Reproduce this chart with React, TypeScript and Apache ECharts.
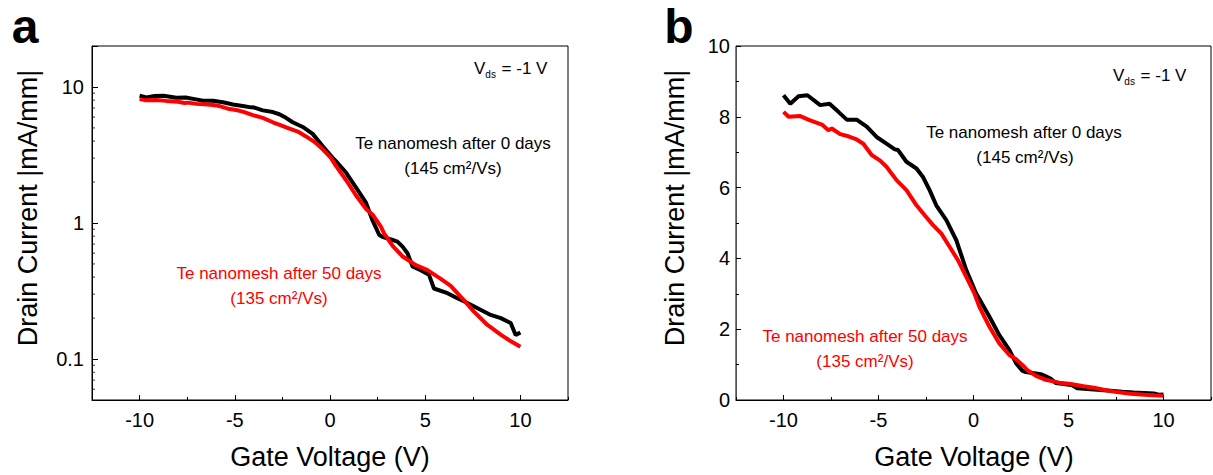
import React, { useEffect, useRef } from "react";
import * as echarts from "echarts";

// ---------- data ----------
const vgBlack = [-10.0, -9.64, -9.21, -8.74, -8.07, -7.58, -7.11, -6.67, -6.15, -5.62, -5.1, -4.58, -4.14, -3.97, -3.53, -3.0, -2.66, -2.31, -1.96, -1.43, -0.91, -0.38, 0.14, 0.31, 0.84, 1.36, 1.89, 2.24, 2.58, 2.75, 3.29, 3.54, 3.81, 4.07, 4.33, 4.76, 5.2, 5.46, 6.17, 6.69, 7.22, 7.83, 8.44, 8.97, 9.49, 9.75, 10.0];
const idBlack = [8.61, 8.37, 8.58, 8.61, 8.33, 8.37, 8.14, 7.92, 7.92, 7.72, 7.43, 7.24, 7.08, 7.06, 6.73, 6.54, 6.3, 5.93, 5.5, 5.08, 4.52, 3.67, 3.01, 2.85, 2.35, 1.83, 1.41, 1.04, 0.82, 0.79, 0.75, 0.73, 0.67, 0.6, 0.48, 0.45, 0.416, 0.33, 0.305, 0.28, 0.258, 0.233, 0.211, 0.2, 0.184, 0.15, 0.157];

const vgRed = [-10.0, -9.73, -9.12, -8.6, -7.98, -7.64, -7.46, -7.02, -6.59, -6.15, -5.8, -5.36, -4.93, -4.58, -4.05, -3.53, -3.0, -2.57, -2.13, -1.69, -1.26, -0.82, -0.38, 0.05, 0.31, 0.84, 1.36, 1.89, 2.24, 2.67, 2.84, 3.29, 3.8, 4.51, 5.12, 5.8, 6.34, 7.04, 7.56, 8.27, 9.0, 9.5, 10.0];
const idRed = [8.14, 8.0, 8.02, 7.9, 7.78, 7.62, 7.67, 7.51, 7.45, 7.36, 7.24, 6.92, 6.77, 6.59, 6.21, 5.93, 5.5, 5.22, 4.94, 4.7, 4.33, 3.95, 3.48, 3.01, 2.63, 2.07, 1.6, 1.27, 1.15, 0.94, 0.84, 0.68, 0.57, 0.49, 0.45, 0.39, 0.345, 0.27, 0.223, 0.178, 0.15, 0.135, 0.123];

const xMajorTicks = [-10, -5, 0, 5, 10];
const logMajorLabels = [0.1, 1, 10];
const logMinorTicks = [0.06, 0.07, 0.08, 0.09, 0.2, 0.3, 0.4, 0.5, 0.6, 0.7, 0.8, 0.9, 2, 3, 4, 5, 6, 7, 8, 9];

const seriesNames = ["Te nanomesh after 0 days", "Te nanomesh after 50 days"];
const mobilities = ["145", "135"];

// ---------- styling ----------
const FONT = "'Liberation Sans', Arial, sans-serif";
const BLACK = "#000000";
const RED = "#ff0000";
const LINE_W = 4;
const X_MIN = -12.5;
const X_MAX = 12.5;
const LOG_MIN = 0.05;
const LOG_MAX = 20;

const zip = (xs: number[], ys: number[]) => xs.map((x, i) => [x, ys[i]]);

function xAxisFor(gridIndex: number) {
  return {
    type: "value",
    gridIndex,
    position: "bottom",
    min: X_MIN,
    max: X_MAX,
    axisLine: { show: true, onZero: false, lineStyle: { color: BLACK, width: 1 } },
    axisTick: {
      show: true,
      inside: true,
      length: 5,
      customValues: xMajorTicks,
      lineStyle: { color: BLACK, width: 1 },
    },
    axisLabel: {
      customValues: xMajorTicks,
      color: BLACK,
      fontFamily: FONT,
      fontSize: 20,
      margin: 10,
      formatter: (v: number) => (v < 0 ? "-" + Math.abs(v) : String(v)),
    },
    splitLine: { show: false },
  };
}

// second bottom axis only for the minor ticks (-12.5 + k*5 => ±7.5, ±2.5)
function xMinorAxisFor(gridIndex: number) {
  return {
    type: "value",
    gridIndex,
    position: "bottom",
    min: X_MIN,
    max: X_MAX,
    interval: 5,
    axisLine: { show: false, onZero: false },
    axisTick: { show: true, inside: true, length: 3, lineStyle: { color: BLACK, width: 1 } },
    axisLabel: { show: false },
    splitLine: { show: false },
  };
}

function textEl(x: number, y: number, text: string, fill: string, size: number, extra: any = {}) {
  return {
    type: "text",
    x,
    y,
    silent: true,
    z: 10,
    ...extra,
    style: {
      text,
      fill,
      fontFamily: FONT,
      fontSize: size,
      align: "center",
      verticalAlign: "middle",
      ...(extra.style || {}),
    },
  };
}

function vdsEl(x: number, y: number) {
  return {
    type: "text",
    x,
    y,
    silent: true,
    z: 10,
    style: {
      text: "{m|V}{s|ds}{m| = -1 V}",
      align: "left",
      verticalAlign: "middle",
      rich: {
        m: { fontFamily: FONT, fontSize: 17, fill: BLACK, lineHeight: 22, color: BLACK },
        s: {
          fontFamily: FONT,
          fontSize: 10,
          fill: BLACK,
          color: BLACK,
          lineHeight: 22,
          verticalAlign: "bottom",
          padding: [6, 1, 0, 0],
        },
      },
    },
  };
}

export default function App() {
  const ref = useRef<HTMLDivElement>(null);

  useEffect(() => {
    if (!ref.current) return;
    const chart = echarts.init(ref.current, undefined, { renderer: "svg" });

    const blackData = zip(vgBlack, idBlack);
    const redData = zip(vgRed, idRed);

    const option: any = {
      animation: false,
      backgroundColor: "#ffffff",
      grid: [
        { left: 92, top: 46, width: 476, height: 354, show: true, borderColor: BLACK, borderWidth: 1, backgroundColor: "transparent" },
        { left: 736, top: 46, width: 475, height: 354, show: true, borderColor: BLACK, borderWidth: 1, backgroundColor: "transparent" },
      ],
      xAxis: [xAxisFor(0), xAxisFor(1), xMinorAxisFor(0), xMinorAxisFor(1)],
      yAxis: [
        {
          type: "log",
          logBase: 10,
          gridIndex: 0,
          position: "left",
          min: LOG_MIN,
          max: LOG_MAX,
          axisLine: { show: true, onZero: false, lineStyle: { color: BLACK, width: 1 } },
          axisTick: {
            show: true,
            inside: true,
            length: 6,
            lineStyle: { color: BLACK, width: 1 },
          },
          axisLabel: {
            color: BLACK,
            fontFamily: FONT,
            fontSize: 20,
            margin: 8,
            formatter: (v: number) => {
              const t = logMajorLabels.find((m) => Math.abs(v - m) / m < 1e-6);
              return t === undefined ? "" : String(t);
            },
          },
          splitLine: { show: false },
        },
        {
          type: "value",
          gridIndex: 1,
          position: "left",
          min: 0,
          max: 10,
          interval: 2,
          axisLine: { show: true, onZero: false, lineStyle: { color: "#555555", width: 1 } },
          axisTick: {
            show: true,
            inside: true,
            length: 5,
            lineStyle: { color: BLACK, width: 1 },
          },
          minorTick: {
            show: true,
            splitNumber: 2,
            length: 3,
            lineStyle: { color: BLACK, width: 1 },
          },
          axisLabel: {
            color: BLACK,
            fontFamily: FONT,
            fontSize: 20,
            margin: 6,
          },
          splitLine: { show: false },
          minorSplitLine: { show: false },
        },
      ],
      series: [
        {
          name: seriesNames[0],
          type: "line",
          xAxisIndex: 0,
          yAxisIndex: 0,
          data: blackData,
          showSymbol: false,
          lineStyle: { color: BLACK, width: LINE_W },
          z: 2,
        },
        {
          name: seriesNames[1],
          type: "line",
          xAxisIndex: 0,
          yAxisIndex: 0,
          data: redData,
          showSymbol: false,
          lineStyle: { color: RED, width: LINE_W },
          z: 3,
        },
        {
          name: seriesNames[0],
          type: "line",
          xAxisIndex: 1,
          yAxisIndex: 1,
          data: blackData,
          showSymbol: false,
          lineStyle: { color: BLACK, width: LINE_W },
          z: 2,
        },
        {
          name: seriesNames[1],
          type: "line",
          xAxisIndex: 1,
          yAxisIndex: 1,
          data: redData,
          showSymbol: false,
          lineStyle: { color: RED, width: LINE_W },
          z: 3,
        },
        // log-axis minor ticks (2..9 per decade), drawn as tiny rects on the left axis
        {
          type: "scatter",
          xAxisIndex: 0,
          yAxisIndex: 0,
          silent: true,
          clip: false,
          z: 6,
          symbol: "rect",
          symbolSize: [3, 1],
          symbolOffset: [1.5, 0],
          itemStyle: { color: BLACK },
          data: logMinorTicks.map((v) => [X_MIN, v]),
        },
      ],
      graphic: [
        // panel letters
        textEl(25, 26, "a", BLACK, 48, { style: { fontWeight: "bold" } }),
        textEl(679, 26, "b", BLACK, 48, { style: { fontWeight: "bold" } }),
        // axis titles
        textEl(28, 208, "Drain Current |mA/mm|", BLACK, 27, { rotation: Math.PI / 2 }),
        textEl(675, 208, "Drain Current |mA/mm|", BLACK, 27, { rotation: Math.PI / 2 }),
        textEl(330, 457, "Gate Voltage (V)", BLACK, 27),
        textEl(974, 457, "Gate Voltage (V)", BLACK, 27),
        // Vds labels
        vdsEl(474, 68),
        vdsEl(1113, 75),
        // annotations, panel a
        textEl(453, 143, seriesNames[0], BLACK, 17),
        textEl(453, 168, "(" + mobilities[0] + " cm²/Vs)", BLACK, 17),
        textEl(279, 273, seriesNames[1], RED, 17),
        textEl(279, 298, "(" + mobilities[1] + " cm²/Vs)", RED, 17),
        // annotations, panel b
        textEl(1024, 132, seriesNames[0], BLACK, 17),
        textEl(1025, 157, "(" + mobilities[0] + " cm²/Vs)", BLACK, 17),
        textEl(865, 336, seriesNames[1], RED, 17),
        textEl(865, 361, "(" + mobilities[1] + " cm²/Vs)", RED, 17),
      ],
    };

    chart.setOption(option);
    return () => chart.dispose();
  }, []);

  return (
    <div
      ref={ref}
      style={{ position: "fixed", left: 0, top: 0, width: 1213, height: 475, background: "#fff" }}
    />
  );
}
